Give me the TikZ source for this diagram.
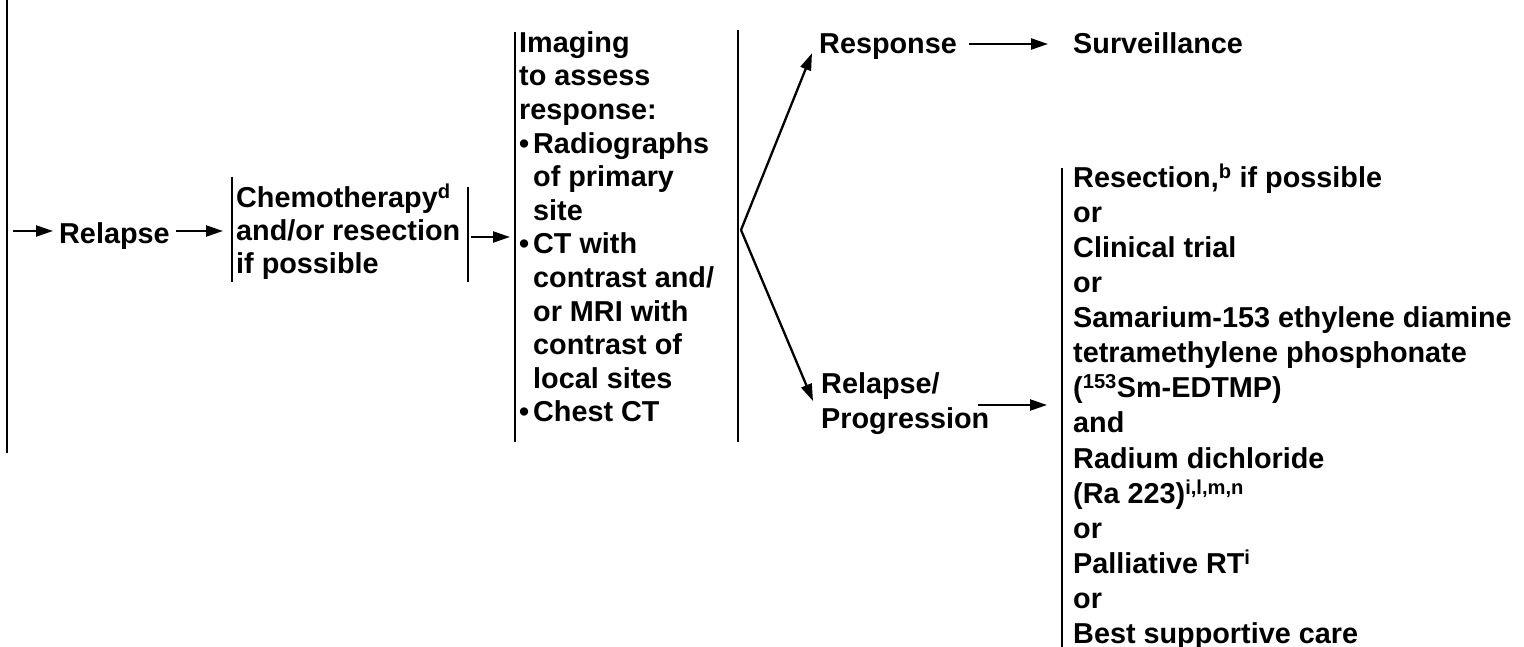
\documentclass[tikz,border=0pt]{standalone}
\usepackage{fontspec}
\setmainfont{Liberation Sans}
\usetikzlibrary{arrows.meta}
\newcommand\firstl{\rule{0pt}{28pt}}
\begin{document}
\begin{tikzpicture}[x=1pt,y=-1pt,
  txt/.style={anchor=north west, inner sep=0pt, align=left, font=\bfseries\fontsize{28.8}{#1}\selectfont},
  txt/.default=34,
  arr/.style={line width=2.3pt, -{Triangle[length=17pt,width=11pt]}},
  bar/.style={line width=2.6pt}]
\useasboundingbox (0,0) rectangle (1524,647);
\fill[white] (0,0) rectangle (1524,647);
% text blocks
\node[txt] (relapse) at (59,215) {\firstl Relapse};
\node[txt=33] (chemo) at (236,179) {\firstl Chemotherapy\textsuperscript{d}\\and/or resection\\if possible};
\node[txt=33.6] (imaging) at (519,24) {\firstl Imaging\\to assess\\response:\\\makebox[14pt][l]{•}Radiographs\\\hspace*{14pt}of primary\\\hspace*{14pt}site\\\makebox[14pt][l]{•}CT with\\\hspace*{14pt}contrast and/\\\hspace*{14pt}or MRI with\\\hspace*{14pt}contrast of\\\hspace*{14pt}local sites\\\makebox[14pt][l]{•}Chest CT};
\node[txt] (response) at (819,25) {\firstl Response};
\node[txt] (surv) at (1073,25) {\firstl Surveillance};
\node[txt=35] (rp) at (821,365) {\firstl Relapse/\\Progression};
\node[txt=35.1] (opts) at (1073,159) {\firstl Resection,\textsuperscript{b} if possible\\or\\Clinical trial\\or\\Samarium-153 ethylene diamine\\tetramethylene phosphonate\\(\textsuperscript{153}Sm-EDTMP)\\and\\Radium dichloride\\(Ra 223)\textsuperscript{i,l,m,n}\\or\\Palliative RT\textsuperscript{i}\\or\\Best supportive care};
% bars
\draw[bar] (7,0) -- (7,453);
\draw[bar] (232,177) -- (232,282);
\draw[bar] (468,187) -- (468,282);
\draw[bar] (515,32) -- (515,442);
\draw[bar] (738,30) -- (738,442);
\draw[bar] (1062,168) -- (1062,647);
% coordinates
\coordinate (lb) at (13,231);
\coordinate (r2) at (0,237);
\coordinate (br) at (741,230);
\coordinate (ry) at (0,44);
\coordinate (ra) at (978,405);
% arrows
\draw[arr] (lb) -- ([xshift=-6pt]relapse.west |- lb);
\draw[arr] ([xshift=6pt]relapse.east |- lb) -- ([xshift=-13pt]chemo.west |- lb);
\draw[arr] ([xshift=11pt]chemo.east |- r2) -- ([xshift=-9pt]imaging.west |- r2);
\draw[arr] (br) -- ([xshift=-7pt]response.base west);
\draw[arr] (br) -- ([shift={(-8,36)}]rp.north west);
\draw[arr] ([xshift=12pt]response.east |- ry) -- ([xshift=-25pt]surv.west |- ry);
\draw[arr] (ra) -- ([xshift=-26pt]opts.west |- ra);
\end{tikzpicture}
\end{document}
